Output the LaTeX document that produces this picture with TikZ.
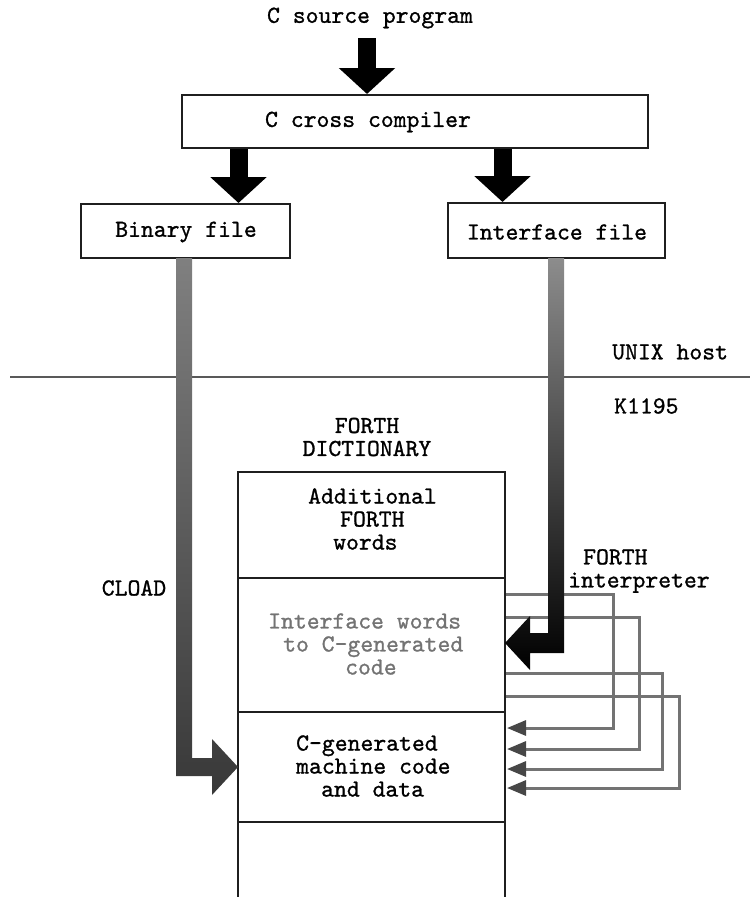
\documentclass[tikz,border=0pt]{standalone}
\usepackage{fontspec}
\newfontfamily\typew{lmmono10-regular.otf}[FakeBold=1]
\usetikzlibrary{arrows.meta}
\definecolor{ink}{gray}{0.12}
\definecolor{loopgray}{gray}{0.45}
\definecolor{txtgray}{gray}{0.45}
\begin{document}
\begin{tikzpicture}[x=1pt,y=-1pt,
  lbl/.style={font=\typew\fontsize{24.5}{23}\selectfont, inner sep=0pt, text=black},
  boxline/.style={draw=ink, line width=2pt},
  bigarrow/.style={line width=18pt, draw=black, -{Triangle[width=55pt,length=26pt]}},
  fb/.style={draw=loopgray, line width=3pt, -{Triangle[width=15pt,length=19pt,color=black!72]}},
]
\useasboundingbox (0,0) rectangle (750,897);

% separator line
\coordinate (sepL) at (10,377);
\coordinate (sepR) at (750,377);
\draw[draw=black!65, line width=2.5pt] (sepL) -- (sepR);

% boxes top
\node[boxline, minimum width=466pt, minimum height=53pt, inner sep=0pt] (cc) at (415,121.5) {};
\node[boxline, minimum width=209pt, minimum height=54pt, inner sep=0pt] (bin) at (185.5,231) {};
\node[boxline, minimum width=217pt, minimum height=55pt, inner sep=0pt] (iff) at (556.5,230.5) {};

% feedback loops
\coordinate (f1s) at (505,594); \coordinate (f1e) at (507,728);
\coordinate (f2s) at (505,617); \coordinate (f2e) at (507,749);
\coordinate (f3s) at (505,673); \coordinate (f3e) at (507,769);
\coordinate (f4s) at (505,696); \coordinate (f4e) at (507,788);
\draw[fb] (f1s) -- (613,594) -- (613,728) -- (f1e);
\draw[fb] (f2s) -- (639,617) -- (639,749) -- (f2e);
\draw[fb] (f3s) -- (662,673) -- (662,769) -- (f3e);
\draw[fb] (f4s) -- (679,696) -- (679,788) -- (f4e);

% dictionary
\node[boxline, minimum width=267pt, minimum height=106pt, inner sep=0pt, outer sep=0pt] (addw) at (371.5,525) {};
\node[boxline, minimum width=267pt, minimum height=134pt, inner sep=0pt, outer sep=0pt] (ifw) at (371.5,645) {};
\node[boxline, minimum width=267pt, minimum height=110pt, inner sep=0pt, outer sep=0pt] (cgen) at (371.5,767) {};
\coordinate (dbl) at (238,899);
\coordinate (dbr) at (505,899);
\draw[boxline] (cgen.south west) -- (dbl);
\draw[boxline] (cgen.south east) -- (dbr);

% big black arrows
\coordinate (a1) at (367,38);
\coordinate (a2) at (238.5,0);
\coordinate (a3) at (502.5,0);
\draw[bigarrow] (a1) -- (a1 |- cc.north);
\draw[bigarrow] (a2 |- cc.south) -- (a2 |- bin.north);
\draw[bigarrow] (a3 |- cc.south) -- (a3 |- iff.north);

% CLOAD arrow
\shade[top color=black!50, bottom color=black!78]
  (176,258) -- (192,258) -- (192,758) -- (212,758) -- (212,739) -- (238,767)
  -- (212,795) -- (212,776) -- (176,776) -- cycle;
% FORTH interpreter arrow
\shade[top color=black!45, middle color=black!95, bottom color=black]
  (548,258) -- (564,258) -- (564,653) -- (530,653) -- (530,670) -- (505,643)
  -- (530,616) -- (530,633) -- (548,633) -- cycle;

% texts
\node[lbl] (src) at (370,18) {C source program};
\node[lbl] (cct) at (368,122) {C cross compiler};
\node[lbl] (bint) at (186,232) {Binary file};
\node[lbl] (ift) at (557,232) {Interface file};
\node[lbl, anchor=west] (unix) at (612,352) {UNIX host};
\node[lbl, anchor=west] (kk) at (614,406) {K1195};
\node[lbl, align=center] (fd) at (367,437) {FORTH\\DICTIONARY};
\node[lbl] (cload) at (134,588) {CLOAD};
\node[lbl, align=left, anchor=west] (fi) at (568,571) {\hspace*{15pt}FORTH\\interpreter};
\node[lbl, align=left, anchor=west] (addt) at (308,519) {Additional\\\hspace*{32pt}FORTH\\\hspace*{25pt}words};
\node[lbl, align=left, anchor=west, text=txtgray] (ift2) at (268,644) {Interface words\\\hspace*{15pt}to C-generated\\\hspace*{77pt}code};
\node[lbl, align=left, anchor=west] (cgt) at (296,766) {C-generated\\machine code\\\hspace*{25pt}and data};
\end{tikzpicture}
\end{document}
